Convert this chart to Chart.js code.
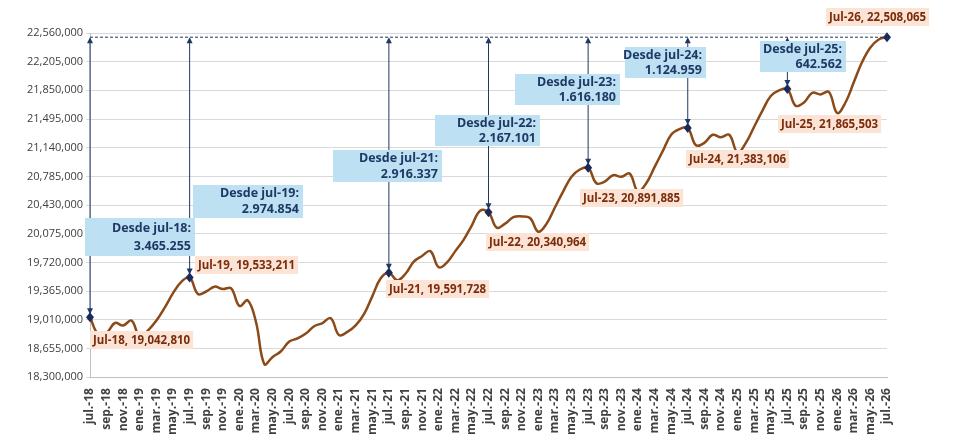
<!DOCTYPE html>
<html><head><meta charset="utf-8">
<script src="https://cdn.jsdelivr.net/npm/chart.js@4"></script>
<style>html,body{margin:0;background:#fff}#w{width:957px;height:440px}</style>
</head><body><div id="w"><canvas id="c"></canvas></div>
<script>
const monthNames=['ene','feb','mar','abr','may','jun','jul','ago','sep','oct','nov','dic'];
const categories=[];
for(let i=0;i<=96;i++){const m=(6+i)%12;const y=18+Math.floor((6+i)/12);categories.push(monthNames[m]+'.-'+y);}
const values=[
19042810,18830000,18850000,18970000,18940000,19000000,18800000,18880000,19000000,19160000,19340000,19480000,
19533211,19330000,19360000,19420000,19390000,19400000,19180000,19250000,18980000,18460000,18550000,18620000,
18740000,18780000,18840000,18930000,18970000,19030000,18820000,18860000,18940000,19080000,19300000,19520000,
19591728,19500000,19580000,19730000,19800000,19860000,19660000,19720000,19860000,20000000,20180000,20360000,
20340964,20150000,20200000,20280000,20290000,20270000,20100000,20200000,20400000,20600000,20780000,20870000,
20891885,20700000,20720000,20800000,20780000,20820000,20600000,20700000,20900000,21100000,21300000,21370000,
21383106,21170000,21200000,21300000,21270000,21300000,21080000,21200000,21400000,21600000,21780000,21850000,
21865503,21660000,21700000,21820000,21800000,21830000,21570000,21700000,21950000,22200000,22380000,22480000,
22508065];
const julIdx=[0,12,36,48,60,72,84,96];
const julLabels=['Jul-18','Jul-19','Jul-21','Jul-22','Jul-23','Jul-24','Jul-25','Jul-26'];
const calloutIdx=[0,12,36,48,60,72,84];
const calloutTitles=['Desde jul-18:','Desde jul-19:','Desde jul-21:','Desde jul-22:','Desde jul-23:','Desde jul-24:','Desde jul-25:'];
const yTicks=[18300000,18655000,19010000,19365000,19720000,20075000,20430000,20785000,21140000,21495000,21850000,22205000,22560000];

const boxes=[[85,218,110,38],[193,185,110,33],[333,150,109,32],[435,115,105,31],[515,74,105,31],[625,47,81,31],[760,41,86,31]];
const lblPos=[[90,331],[195,256],[386,280],[486,233],[580,189],[686,150],[778,115],[826,8]];
const fmtDot=n=>n.toString().replace(/\B(?=(\d{3})+(?!\d))/g,'.');
const fmtCom=n=>n.toString().replace(/\B(?=(\d{3})+(?!\d))/g,',');
const navy='#1F3864';
const plugin={id:'ann',afterDatasetsDraw(ch){
 const c=ch.ctx,xs=ch.scales.x,ys=ch.scales.y;const last=values[96];const yt=ys.getPixelForValue(last);
 c.save();
 c.strokeStyle=navy;c.lineWidth=1;c.setLineDash([3,2]);c.beginPath();c.moveTo(xs.getPixelForValue(0),yt);c.lineTo(xs.getPixelForValue(96),yt);c.stroke();c.setLineDash([]);
 c.fillStyle=navy;
 calloutIdx.forEach(i=>{const x=xs.getPixelForValue(i),y=ys.getPixelForValue(values[i]);
  c.beginPath();c.moveTo(x,yt+2);c.lineTo(x,y-4);c.stroke();
  c.beginPath();c.moveTo(x,yt);c.lineTo(x-3,yt+6);c.lineTo(x+3,yt+6);c.fill();
  c.beginPath();c.moveTo(x,y-3);c.lineTo(x-3,y-9);c.lineTo(x+3,y-9);c.fill();});
 c.font='bold 12.5px "Open Sans", sans-serif';c.textBaseline='middle';
 calloutIdx.forEach((i,k)=>{const [bx,by,bw,bh]=boxes[k];c.fillStyle='#BDE0F3';c.fillRect(bx,by,bw,bh);
  c.fillStyle=navy;c.textAlign='right';c.fillText(calloutTitles[k],bx+bw-4,by+bh*0.27);c.fillText(fmtDot(last-values[i]),bx+bw-4,by+bh*0.75);});
 julIdx.forEach(i=>{const x=xs.getPixelForValue(i),y=ys.getPixelForValue(values[i]);c.fillStyle='#1A2A5A';c.beginPath();c.moveTo(x,y-5);c.lineTo(x+4,y);c.lineTo(x,y+5);c.lineTo(x-4,y);c.fill();});
 c.font='bold 11.5px "Open Sans", sans-serif';c.textAlign='left';
 julIdx.forEach((i,k)=>{const t=julLabels[k]+', '+fmtCom(values[i]);const [lx,ly]=lblPos[k];const w=c.measureText(t).width+6;
  c.fillStyle='#FBE3D6';c.fillRect(lx,ly,w,18);c.fillStyle='#7B2C0A';c.fillText(t,lx+3,ly+9.5);});
 c.restore();}};
new Chart(document.getElementById('c'),{type:'line',
 data:{labels:categories,datasets:[{data:values,borderColor:'#8B4A17',borderWidth:2.5,pointRadius:0,tension:0.4,fill:false}]},
 options:{responsive:true,maintainAspectRatio:false,animation:false,
  layout:{padding:{top:33,right:70,left:10,bottom:2}},
  plugins:{legend:{display:false},tooltip:{enabled:false}},
  scales:{
   x:{grid:{display:false},border:{color:'#BFBFBF'},ticks:{autoSkip:false,maxRotation:90,minRotation:90,color:'#404040',font:{size:12,weight:'bold',family:'"Open Sans", sans-serif'},
      callback:(v,i)=>i%2===0?categories[i]:''}},
   y:{min:18300000,max:22560000,afterBuildTicks:s=>{s.ticks=yTicks.map(v=>({value:v}));},afterFit:s=>{s.width=80;},
      grid:{color:'#D9D9D9',tickLength:4},border:{color:'#BFBFBF',display:true},
      ticks:{color:'#404040',font:{size:11,family:'"Open Sans", sans-serif'},callback:v=>fmtCom(v)}}}},
 plugins:[plugin]});
</script></body></html>
